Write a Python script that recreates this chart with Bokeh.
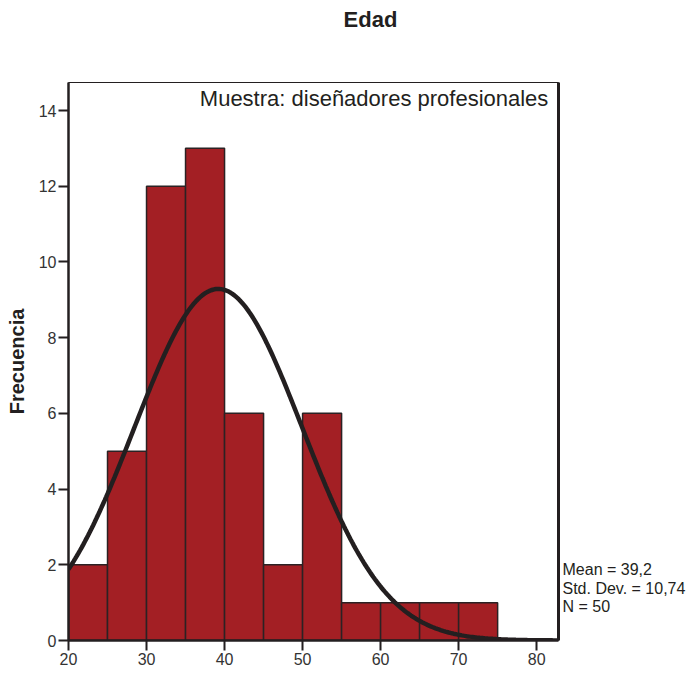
import numpy as np
from bokeh.plotting import figure
from bokeh.layouts import column, row
from bokeh.models import Range1d, LinearAxis, FixedTicker, Label
from bokeh.embed import file_html
from bokeh.resources import INLINE

# Data
bin_left = [20, 25, 30, 35, 40, 45, 50, 55, 60, 65, 70]
bin_right = [25, 30, 35, 40, 45, 50, 55, 60, 65, 70, 75]
counts = [2, 5, 12, 13, 6, 2, 6, 1, 1, 1, 1]
x_ticks = [20, 30, 40, 50, 60, 70, 80]
y_ticks = [0, 2, 4, 6, 8, 10, 12, 14]
MEAN = 39.2
SD = 10.74
N = 50
BIN_W = 5
title_text = "Edad"
sample_text = "Muestra: diseñadores profesionales"
stats_lines = ["Mean = 39,2", "Std. Dev. = 10,74", "N = 50"]

# fitted normal curve from the stated parameters
xc = np.linspace(20, 82.8, 300)
yc = N * BIN_W / (SD * np.sqrt(2 * np.pi)) * np.exp(-0.5 * ((xc - MEAN) / SD) ** 2)

FONT = "Liberation Sans"
DARK = "#231f20"

yr = Range1d(0, 14.74)

# ---- title strip ----
tf = figure(width=688, height=80, output_backend="svg", toolbar_location=None,
            x_range=Range1d(0, 688), y_range=Range1d(0, 80),
            min_border=0, outline_line_color=None)
tf.axis.visible = False
tf.grid.visible = False
tf.add_layout(Label(x=370, y=61, text=title_text, text_align="center",
                    text_baseline="middle", text_font=FONT, text_font_style="bold",
                    text_font_size="22px", text_color=DARK))

# ---- main histogram ----
p = figure(frame_width=490, frame_height=558,
           min_border_left=68, min_border_right=3, min_border_top=2,
           min_border_bottom=35, output_backend="svg", toolbar_location=None,
           x_range=Range1d(20, 82.8), y_range=yr)
p.background_fill_color = "white"
p.border_fill_color = "white"
p.xgrid.visible = False
p.ygrid.visible = False
p.outline_line_color = DARK
p.outline_line_width = 1

p.quad(left=bin_left, right=bin_right, bottom=0, top=counts,
       fill_color="#A31F24", line_color="#2b2224", line_width=1.5)
p.line(xc, yc, line_color="#231f20", line_width=4.5)

for ax, ticks in ((p.xaxis[0], x_ticks), (p.yaxis[0], y_ticks)):
    ax.ticker = FixedTicker(ticks=ticks)
    ax.axis_line_width = 2.5
    ax.axis_line_color = DARK
    ax.major_tick_line_width = 2
    ax.major_tick_line_color = DARK
    ax.major_tick_in = 0
    ax.major_tick_out = 10
    ax.minor_tick_line_color = None
    ax.major_label_text_font = FONT
    ax.major_label_text_font_size = "16px"
    ax.major_label_text_color = "#333333"
    ax.major_label_standoff = 2

p.yaxis[0].axis_label = "Frecuencia"
p.yaxis[0].axis_label_text_font = FONT
p.yaxis[0].axis_label_text_font_style = "bold"
p.yaxis[0].axis_label_text_font_size = "20px"
p.yaxis[0].axis_label_text_color = DARK
p.yaxis[0].axis_label_standoff = 8

right_ax = LinearAxis(ticker=FixedTicker(ticks=[]), axis_line_width=3,
                      axis_line_color=DARK, major_tick_line_color=None,
                      minor_tick_line_color=None, major_label_text_font_size="0px",
                      major_tick_out=0, major_label_standoff=0)
p.add_layout(right_ax, "right")

p.add_layout(Label(x=81.5, y=14.33, text=sample_text, text_align="right",
                   text_baseline="middle", text_font=FONT,
                   text_font_size="22px", text_color=DARK))

# ---- stats strip (shares the y scale) ----
sf = figure(width=126, frame_height=558, min_border_left=0, min_border_right=0,
            min_border_top=2, min_border_bottom=35, output_backend="svg",
            toolbar_location=None, x_range=Range1d(0, 126), y_range=yr,
            outline_line_color=None)
sf.axis.visible = False
sf.grid.visible = False
for i, s in enumerate(stats_lines):
    sf.add_layout(Label(x=1, y=1.875 - i * 0.49, text=s, text_align="left",
                        text_baseline="middle", text_font=FONT,
                        text_font_size="16px", text_color=DARK))

layout = column(tf, row(p, sf, spacing=0), spacing=0)
open("out.html", "w").write(file_html(layout, INLINE))
